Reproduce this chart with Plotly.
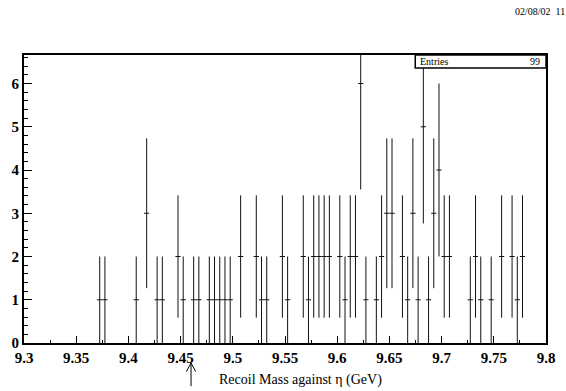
import plotly.graph_objects as go
import math

# Histogram: 100 bins of 5 MeV between 9.3 and 9.8 GeV
x_low = 9.3
x_high = 9.8
bin_width = 0.005
counts = [
    0, 0, 0, 0, 0, 0, 0, 0, 0, 0,
    0, 0, 0, 0, 1, 1, 0, 0, 0, 0,
    0, 1, 0, 3, 0, 1, 1, 0, 0, 2,
    1, 0, 1, 1, 0, 1, 1, 1, 1, 1,
    0, 2, 0, 0, 2, 1, 1, 0, 0, 2,
    1, 0, 0, 2, 1, 2, 2, 2, 2, 0,
    2, 1, 2, 2, 6, 1, 0, 1, 2, 3,
    3, 0, 2, 1, 3, 1, 5, 1, 3, 4,
    2, 2, 0, 0, 0, 1, 2, 1, 0, 1,
    0, 2, 0, 2, 1, 2, 0, 0, 0, 0,
]
entries = 99
x_tick_vals = [9.3, 9.35, 9.4, 9.45, 9.5, 9.55, 9.6, 9.65, 9.7, 9.75, 9.8]
x_tick_text = ["9.3", "9.35", "9.4", "9.45", "9.5", "9.55", "9.6", "9.65", "9.7", "9.75", "9.8"]
y_tick_vals = [0, 1, 2, 3, 4, 5, 6]
y_max = 6.66
marker_mass = 9.46
date_text = "02/08/02  11"

centers = []
values = []
errors = []
for i, n in enumerate(counts):
    if n > 0:
        centers.append(x_low + (i + 0.5) * bin_width)
        values.append(n)
        errors.append(math.sqrt(n))

serif = "Liberation Serif, Times New Roman, serif"

fig = go.Figure()
fig.add_trace(go.Scatter(
    x=centers, y=values, mode="markers",
    marker=dict(size=1, color="rgba(0,0,0,0)"),
    error_y=dict(type="data", array=errors, visible=True,
                 color="#111111", thickness=1, width=0),
    error_x=dict(type="constant", value=bin_width / 2, visible=True,
                 color="#111111", thickness=1, width=0),
    showlegend=False, hoverinfo="skip",
))

fig.update_layout(
    width=566, height=391,
    margin=dict(l=24, r=11, t=55, b=48),
    paper_bgcolor="white", plot_bgcolor="white",
    xaxis=dict(
        range=[x_low, x_high], tickvals=x_tick_vals, ticktext=x_tick_text,
        ticks="inside", ticklen=7, tickwidth=1, tickcolor="black",
        minor=dict(ticks="inside", ticklen=3, dtick=0.025, tick0=x_low,
                   tickcolor="black", showgrid=False),
        showgrid=False, zeroline=False,
        showline=True, linecolor="black", linewidth=2, mirror=True,
        tickfont=dict(family=serif, size=15, color="black", weight="bold"),
    ),
    yaxis=dict(
        range=[0, y_max], tickvals=y_tick_vals,
        ticks="inside", ticklen=8, tickwidth=1, tickcolor="black",
        minor=dict(ticks="inside", ticklen=4, dtick=0.2, tick0=0,
                   tickcolor="black", showgrid=False),
        showgrid=False, zeroline=False,
        showline=True, linecolor="black", linewidth=2, mirror=True,
        tickfont=dict(family=serif, size=15, color="black", weight="bold"),
    ),
)

# Statistics box
box_left = (422 - 24) / 531
box_bottom = 1 - 13 / 288
fig.add_shape(type="rect", xref="paper", yref="paper",
              x0=box_left, x1=1.0, y0=box_bottom, y1=1.0,
              fillcolor="white", line=dict(color="black", width=1.5),
              layer="above")
fig.add_annotation(xref="paper", yref="paper", x=box_left + 0.006,
                   y=(1 + box_bottom) / 2, text="Entries", showarrow=False,
                   xanchor="left", yanchor="middle",
                   font=dict(family=serif, size=10, color="black"))
fig.add_annotation(xref="paper", yref="paper", x=0.992,
                   y=(1 + box_bottom) / 2, text=str(entries), showarrow=False,
                   xanchor="right", yanchor="middle",
                   font=dict(family=serif, size=10, color="black"))

# Axis title
fig.add_annotation(xref="paper", yref="paper", x=(305 - 24) / 531, y=-0.128,
                   text="Recoil Mass against \u03b7 (GeV)", showarrow=False,
                   xanchor="center", yanchor="middle",
                   font=dict(family=serif, size=14, color="black"))

# Upward arrow marking the expected mass
tip_y = -0.0694
tail_y = -0.150
head_dx = 0.0045
head_dy = 0.03
arrow_line = dict(color="black", width=1)
fig.add_shape(type="line", xref="x", yref="paper", x0=marker_mass, x1=marker_mass,
              y0=tail_y, y1=tip_y, line=arrow_line)
fig.add_shape(type="line", xref="x", yref="paper", x0=marker_mass, x1=marker_mass - head_dx,
              y0=tip_y, y1=tip_y - head_dy, line=arrow_line)
fig.add_shape(type="line", xref="x", yref="paper", x0=marker_mass, x1=marker_mass + head_dx,
              y0=tip_y, y1=tip_y - head_dy, line=arrow_line)

# Date stamp, running off the right edge of the page
fig.add_annotation(xref="paper", yref="paper", x=(521 - 24) / 531,
                   y=1 + (55 - 11) / 288, text=date_text, showarrow=False,
                   xanchor="left", yanchor="middle",
                   font=dict(family=serif, size=10, color="black"))

fig.write_html("out.html")
